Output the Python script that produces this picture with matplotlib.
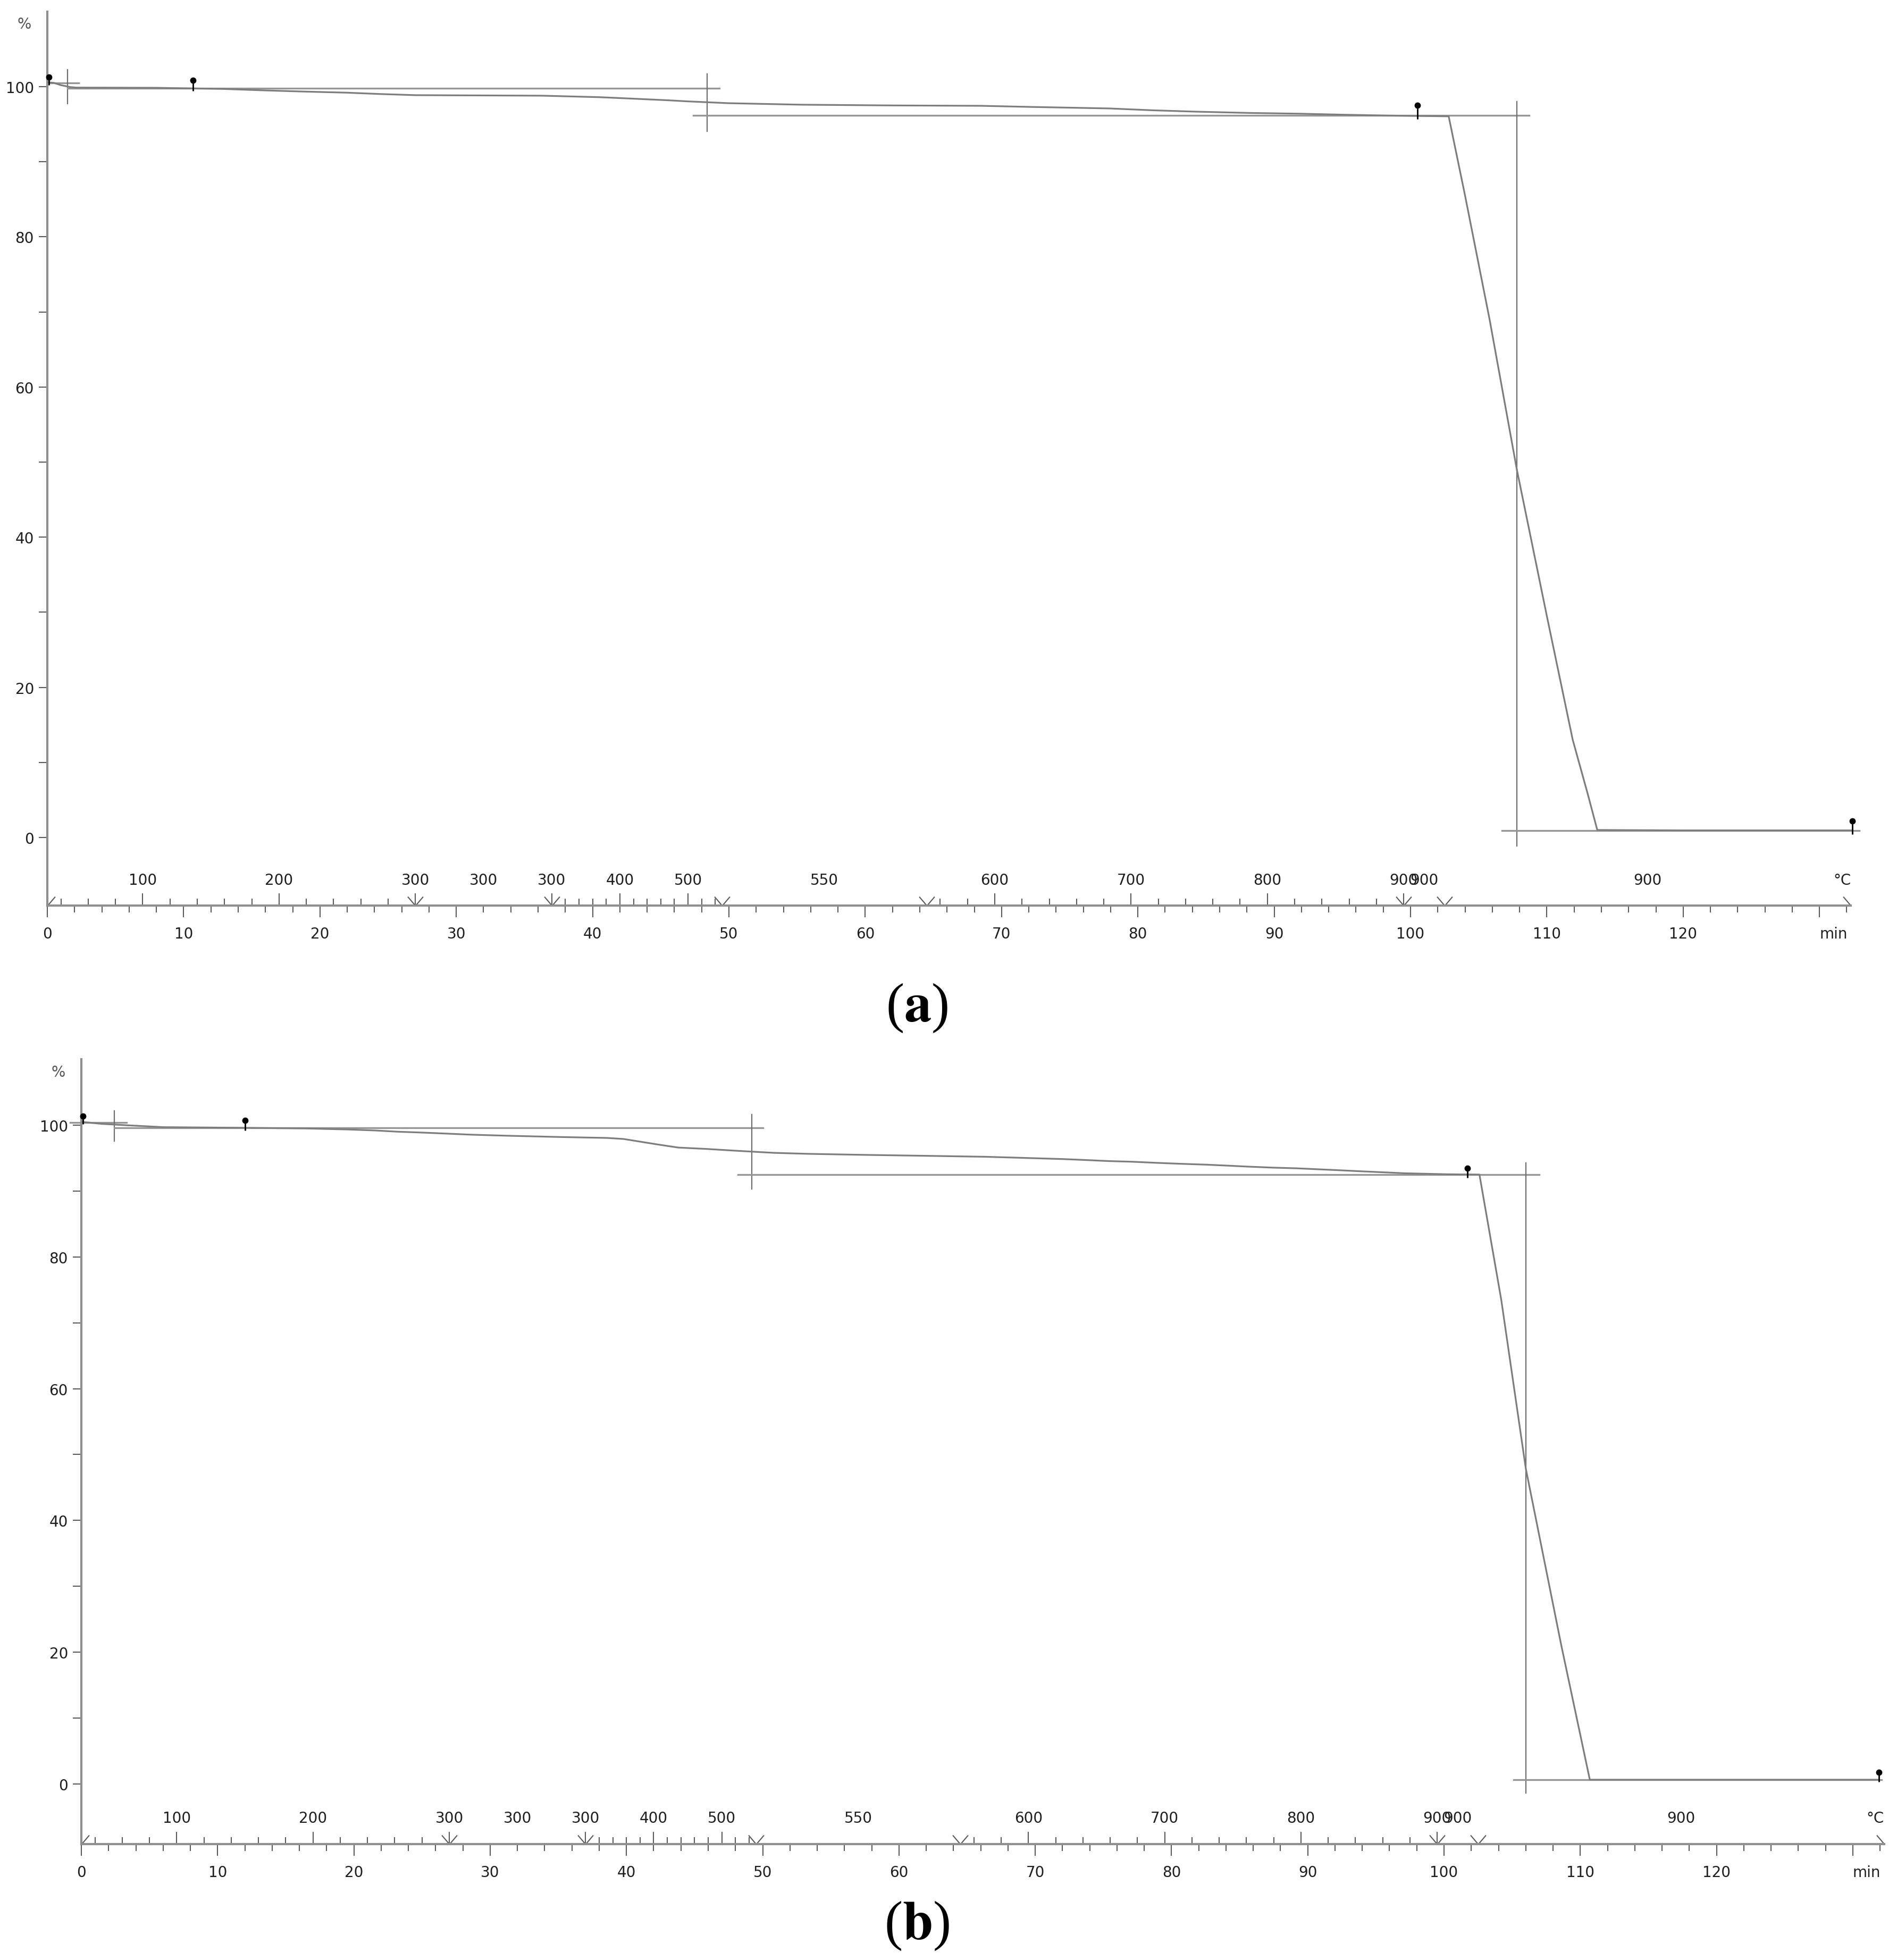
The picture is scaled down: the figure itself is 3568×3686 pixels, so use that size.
import numpy as np
import matplotlib
matplotlib.use('Agg')
import matplotlib.pyplot as plt
from matplotlib.path import Path

plt.rcParams['font.family'] = 'DejaVu Sans'
plt.rcParams['mathtext.fontset'] = 'stix'

W, H = 3568, 3687

# ---- run (a): time (min) vs mass (%)
time_a = [0, 0.5, 1.0, 1.7, 2.1, 8.0, 12.9, 16, 19, 22, 24.3, 27, 36.3, 40.5, 42.4, 43.6,
          45.4, 47, 50, 55.3, 62, 68.5, 72.2, 75.1, 77.9, 81, 84.3, 88.2, 91.9, 95, 98.4,
          100.5, 102.8, 104.0, 105.8, 107.8, 110.0, 111.9, 113.0, 113.7, 120, 132.4]
mass_a = [100.6, 100.5, 100.2, 99.95, 99.88, 99.85, 99.7, 99.5, 99.34, 99.2, 99.03, 98.87,
          98.8, 98.6, 98.45, 98.35, 98.2, 98.04, 97.8, 97.6, 97.5, 97.45, 97.3, 97.2, 97.1,
          96.86, 96.67, 96.5, 96.4, 96.27, 96.15, 96.1, 96.05, 85.5, 69.0, 49.0, 29.5, 13.0,
          5.8, 1.0, 0.95, 0.95]
# step evaluation lines: (t start, t end, y start, y end)
steps_a = [(0, 2.3, 100.5, 100.5), (1.5, 1.5, 102.3, 97.7), (1.5, 49.3, 99.8, 99.8),
           (48.4, 48.4, 101.7, 94.05), (47.4, 108.7, 96.15, 96.15),
           (107.8, 107.8, 98.0, -1.1), (106.7, 132.9, 0.95, 0.95)]
pin_t_a = [0.1, 10.7, 100.5, 132.4]
pin_top_a = [101.3, 100.85, 97.5, 2.2]
pin_bot_a = [100.2, 99.4, 95.7, 0.4]

# ---- run (b)
time_b = [0, 0.5, 1.5, 3.2, 6, 11.9, 16.5, 19.5, 21.5, 23.3, 24.7, 25.9, 27, 28.7, 31.2,
          35.2, 38.6, 39.8, 41, 42.2, 43.8, 45.8, 48.2, 50.8, 53.3, 57.2, 61.9, 66.4, 69.7,
          72.1, 73.8, 75.4, 77.1, 78.7, 80.5, 82.6, 84.2, 85.7, 87.5, 89.2, 90.8, 92.4, 93.9,
          95.5, 97.1, 100.2, 102.6, 104.2, 106.0, 108.6, 110.7, 120, 131.9]
mass_b = [100.5, 100.4, 100.2, 100.0, 99.7, 99.6, 99.5, 99.35, 99.2, 99.0, 98.9, 98.8, 98.7,
          98.55, 98.4, 98.2, 98.06, 97.9, 97.5, 97.1, 96.6, 96.4, 96.1, 95.8, 95.65, 95.5,
          95.35, 95.2, 95.0, 94.85, 94.7, 94.55, 94.45, 94.3, 94.15, 94.0, 93.85, 93.7, 93.55,
          93.45, 93.3, 93.15, 93.0, 92.85, 92.7, 92.55, 92.5, 73.5, 47.9, 21.1, 0.65, 0.65, 0.65]
steps_b = [(-0.8, 3.3, 100.4, 100.4), (2.4, 2.4, 102.2, 97.6), (2.4, 50.0, 99.63, 99.63),
           (49.2, 49.2, 101.6, 90.3), (48.2, 107.0, 92.5, 92.5),
           (106.0, 106.0, 94.3, -1.4), (105.1, 132.1, 0.65, 0.65)]
pin_t_b = [0.1, 12.0, 101.7, 131.9]
pin_top_b = [101.4, 100.7, 93.5, 1.8]
pin_bot_b = [100.2, 99.2, 92.0, 0.3]

# temperature programme (same for both runs)
prog_t0 = [0, 27, 37, 49.5, 64.5, 99.5, 102.5]
prog_t1 = [27, 37, 49.5, 64.5, 99.5, 102.5, 132.3]
prog_T0 = [30, 300, 300, 550, 550, 900, 900]
prog_T1 = [300, 300, 550, 550, 900, 900, 900]

min_ticks = [0, 10, 20, 30, 40, 50, 60, 70, 80, 90, 100, 110, 120, 130]
min_labels = ['0', '10', '20', '30', '40', '50', '60', '70', '80', '90', '100', '110', '120', 'min']

XMAX = 133
YMIN, YMAX = -9.1, 110
AX_GREY = '#8f8f8f'
TICK_GREY = '#5a5a5a'
TXT = '#1e1e1e'

fig = plt.figure(figsize=(W / 100, H / 100), dpi=100)


def px_axes(left, top, right, bottom):
    return fig.add_axes([left / W, 1 - bottom / H, (right - left) / W, (bottom - top) / H])


def temp_marks():
    minor, major, labels = [], [], []
    for t0, t1, T0, T1 in zip(prog_t0, prog_t1, prog_T0, prog_T1):
        if T0 == T1:
            labels.append(((t0 + t1) / 2, str(T0)))
            continue
        rate = (T1 - T0) / (t1 - t0)
        for T in range(int(np.ceil(T0 / 20)) * 20, T1 + 1, 20):
            t = t0 + (T - T0) / rate
            if T % 100 == 0:
                major.append(t)
                labels.append((t, str(T)))
            else:
                minor.append(t)
    return minor, major, labels


def draw(ax, t, m, steps, pin_t, pin_top, pin_bot):
    ax.set_xlim(0, XMAX)
    ax.set_ylim(YMIN, YMAX)
    ax.plot(t, m, color='#7d7d7d', lw=2.3, zorder=3)
    for t0, t1, y0, y1 in steps:
        vert = t0 == t1
        ax.plot([t0, t1], [y0, y1], color='#6e6e6e' if vert else '#959595',
                lw=1.6 if vert else 2.4, clip_on=False, zorder=2)
    ax.vlines(pin_t, pin_bot, pin_top, color='black', lw=2, zorder=4, clip_on=False)
    ax.plot(pin_t, pin_top, 'o', color='black', ms=7.5, zorder=5, clip_on=False)

    for s in ['top', 'right']:
        ax.spines[s].set_visible(False)
    for s in ['left', 'bottom']:
        ax.spines[s].set_color(AX_GREY)
        ax.spines[s].set_linewidth(3)
    ax.spines['bottom'].set_bounds(0, prog_t1[-1])

    ax.set_yticks([0, 20, 40, 60, 80, 100])
    ax.set_yticks([10, 30, 50, 70, 90], minor=True)
    ax.set_xticks(min_ticks, min_labels)
    ax.set_xticks(np.arange(0, 133, 2), minor=True)
    ax.tick_params(axis='both', which='both', colors=TICK_GREY, labelcolor=TXT,
                   labelsize=20, width=1.5)
    ax.tick_params(axis='y', which='both', length=11.5, pad=6.5)
    ax.tick_params(axis='x', which='major', length=16, pad=12)
    ax.tick_params(axis='x', which='minor', length=9.4)
    ax.get_xticklabels()[-1].set_horizontalalignment('left')

    ax.annotate('%', xy=(0, 1), xycoords='axes fraction', xytext=(-31, -17),
                textcoords='offset points', ha='center', va='center',
                fontsize=20, color='#555555')

    # temperature scale on top of the time axis
    tr = ax.get_xaxis_transform()
    minor, major, labels = temp_marks()
    ax.plot(minor, np.zeros(len(minor)), ls='none', marker=2, ms=9.4, mew=1.5,
            color=TICK_GREY, transform=tr, clip_on=False)
    ax.plot(major, np.zeros(len(major)), ls='none', marker=2, ms=16.5, mew=1.5,
            color=TICK_GREY, transform=tr, clip_on=False)
    vmark = Path([(-0.85, 1), (0, 0), (0.85, 1)])
    ax.plot(prog_t0[1:], np.zeros(len(prog_t0) - 1), ls='none', marker=vmark, ms=24.5,
            mew=1.5, mfc='none', color=TICK_GREY, transform=tr, clip_on=False)
    ax.plot([prog_t0[0]], [0], ls='none', marker=Path([(0, 0), (0.85, 1)]), ms=24.5,
            mew=1.5, mfc='none', color=TICK_GREY, transform=tr, clip_on=False)
    ax.plot([prog_t1[-1]], [0], ls='none', marker=Path([(-0.85, 1), (0, 0)]), ms=24.5,
            mew=1.5, mfc='none', color=TICK_GREY, transform=tr, clip_on=False)
    for tt, lab in labels:
        ax.annotate(lab, xy=(tt, 0), xycoords=tr, xytext=(0, 35), textcoords='offset points',
                    ha='center', va='center', fontsize=20, color=TXT)
    ax.annotate('°C', xy=(prog_t1[-1], 0), xycoords=tr, xytext=(-12, 35),
                textcoords='offset points', ha='center', va='center', fontsize=20, color=TXT)


ax_a = px_axes(89, 164 - 10 * 14.12, 89 + XMAX * 25.64, 1576 + 9.1 * 14.12)
ax_b = px_axes(153, 2117 - 10 * 12.39, 153 + XMAX * 25.63, 3356 + 9.1 * 12.39)

draw(ax_a, time_a, mass_a, steps_a, pin_t_a, pin_top_a, pin_bot_a)
draw(ax_b, time_b, mass_b, steps_b, pin_t_b, pin_top_b, pin_bot_b)

fig.text(1725 / W, 1 - 1896 / H, r'($\mathbf{a}$)', family='Liberation Serif',
         fontsize=74, ha='center', va='center')
fig.text(1724 / W, 1 - 3622 / H, r'($\mathbf{b}$)', family='Liberation Serif',
         fontsize=74, ha='center', va='center')

fig.savefig('out.png', dpi=100)
